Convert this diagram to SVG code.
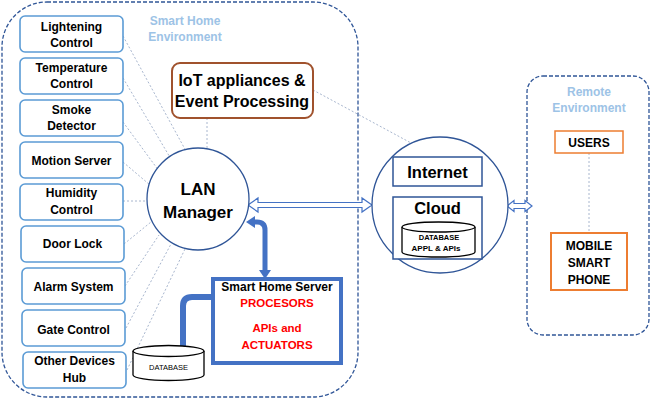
<svg xmlns="http://www.w3.org/2000/svg" width="650" height="401" viewBox="0 0 650 401">
<style>
.cont{fill:none;stroke:#2F5597;stroke-width:1.3;stroke-dasharray:4 2}
.env{font-family:"Liberation Sans",Arial,sans-serif;font-weight:bold;font-size:12px;fill:#9DC3E6;text-anchor:middle}
.dev{fill:#fff;stroke:#5B9BD5;stroke-width:1.6}
.t{font-family:"Liberation Sans",Arial,sans-serif;font-weight:bold;fill:#000;text-anchor:middle}
.dot{fill:none;stroke:#A8B6CE;stroke-width:1;stroke-dasharray:2 2}
.blue{fill:none;stroke:#4472C4}
.red{fill:#FF0000}
.or{fill:#fff;stroke:#ED7D31}
</style>
<rect width="650" height="401" fill="#fff"/>

<!-- containers -->
<g id="smart-home-env">
<rect class="cont" x="2" y="2" width="356" height="395" rx="45"/>
<text class="env" x="185" y="25">Smart Home</text>
<text class="env" x="185" y="41">Environment</text>
</g>
<g id="remote-env">
<rect class="cont" x="527" y="76" width="122" height="259" rx="16"/>
<text class="env" x="589" y="96">Remote</text>
<text class="env" x="589" y="112">Environment</text>
</g>

<!-- connectors -->
<g id="connectors">
<path class="dot" d="M123 36 L186 151"/>
<path class="dot" d="M123 78 L171 159"/>
<path class="dot" d="M123 122 L159 171"/>
<path class="dot" d="M123 162 L150 185"/>
<path class="dot" d="M123 201 L147 201"/>
<path class="dot" d="M124 244 L151 222"/>
<path class="dot" d="M125 286 L159 235"/>
<path class="dot" d="M126 328 L171 244"/>
<path class="dot" d="M127 370 L185 249"/>
<path class="dot" d="M207 118 L207 148"/>
<path class="dot" d="M313 90 L437 157"/>
<path class="dot" d="M589 153 L589 233"/>
<polygon points="248,205 258,198 258,202.5 362,202.5 362,198 372,205 362,212 362,207.5 258,207.5 258,212" fill="#fff" stroke="#4472C4" stroke-width="1.2"/>
<polygon points="507,206 514,200.5 514,203.5 525,203.5 525,200.5 532,206 525,211.5 525,208.5 514,208.5 514,211.5" fill="#fff" stroke="#4472C4" stroke-width="1.2"/>
<path class="blue" stroke-width="5" d="M253 222 L257 222 Q265 222 265 230 L265 271"/>
<polygon points="246,222 255,216 255,228" fill="#4472C4"/>
<polygon points="265,279 259,270 271,270" fill="#4472C4"/>
<path class="blue" stroke-width="6" d="M213 297 L192 297 Q183 297 183 306 L183 347"/>
</g>

<!-- devices -->
<g id="lightening-control"><rect class="dev" x="20" y="16" width="103" height="36" rx="5"/><text class="t" font-size="12" x="71.5" y="31">Lightening</text><text class="t" font-size="12" x="71.5" y="47">Control</text></g>
<g id="temperature-control"><rect class="dev" x="20" y="58" width="103" height="36" rx="5"/><text class="t" font-size="12" x="71.5" y="72">Temperature</text><text class="t" font-size="12" x="71.5" y="88">Control</text></g>
<g id="smoke-detector"><rect class="dev" x="20" y="100" width="103" height="36" rx="5"/><text class="t" font-size="12" x="71.5" y="114">Smoke</text><text class="t" font-size="12" x="71.5" y="130">Detector</text></g>
<g id="motion-server"><rect class="dev" x="20" y="142" width="103" height="36" rx="5"/><text class="t" font-size="12" x="71.5" y="165">Motion Server</text></g>
<g id="humidity-control"><rect class="dev" x="20" y="184" width="103" height="36" rx="5"/><text class="t" font-size="12" x="71.5" y="197">Humidity</text><text class="t" font-size="12" x="71.5" y="214">Control</text></g>
<g id="door-lock"><rect class="dev" x="21" y="226" width="103" height="36" rx="5"/><text class="t" font-size="12" x="72.5" y="248">Door Lock</text></g>
<g id="alarm-system"><rect class="dev" x="22" y="268" width="103" height="36" rx="5"/><text class="t" font-size="12" x="73.5" y="291">Alarm System</text></g>
<g id="gate-control"><rect class="dev" x="22" y="310" width="103" height="36" rx="5"/><text class="t" font-size="12" x="73.5" y="334">Gate Control</text></g>
<g id="other-devices-hub"><rect class="dev" x="23" y="352" width="103" height="36" rx="5"/><text class="t" font-size="12" x="74.5" y="365">Other Devices</text><text class="t" font-size="12" x="74.5" y="382">Hub</text></g>

<g id="iot-appliances">
<rect x="172" y="63" width="141" height="55" rx="8" fill="#fff" stroke="#A0522D" stroke-width="2"/>
<text class="t" font-size="16" x="242" y="86">IoT appliances &amp;</text>
<text class="t" font-size="16" x="242" y="107">Event Processing</text>
</g>

<g id="lan-manager">
<circle cx="198" cy="199" r="51" fill="#fff" stroke="#2F5597" stroke-width="1.3"/>
<text class="t" font-size="17" x="198" y="195">LAN</text>
<text class="t" font-size="17" x="198" y="218">Manager</text>
</g>

<g id="smart-home-server">
<rect x="213" y="279" width="128" height="84" fill="#fff" stroke="#4472C4" stroke-width="4"/>
<text class="t" font-size="12" x="277" y="291">Smart Home Server</text>
<text class="t red" font-size="11.5" x="277" y="307">PROCESORS</text>
<text class="t red" font-size="11.5" x="277" y="332">APIs and</text>
<text class="t red" font-size="11.5" x="277" y="349">ACTUATORS</text>
</g>

<g id="database">
<path d="M133 351 L133 375 A35.5 5.5 0 0 0 204 375 L204 351" fill="#fff" stroke="#000" stroke-width="1.3"/>
<ellipse cx="168.5" cy="351" rx="35.5" ry="5.5" fill="#fff" stroke="#000" stroke-width="1.3"/>
<text font-family="Liberation Sans,Arial,sans-serif" font-size="7.5" text-anchor="middle" x="168.5" y="370">DATABASE</text>
</g>

<g id="internet-cloud">
<circle cx="440" cy="205" r="68" fill="#fff" stroke="#2F5597" stroke-width="1.3"/>
<rect x="393" y="157" width="89" height="29" fill="#fff" stroke="#2F5597" stroke-width="1.5"/>
<text class="t" font-size="16.5" x="437.5" y="178">Internet</text>
<rect x="393" y="197" width="89" height="62" fill="#fff" stroke="#2F5597" stroke-width="1.5"/>
<text class="t" font-size="16.5" x="437.5" y="214">Cloud</text>
<path d="M402 227 L402 252 A36.5 5 0 0 0 475 252 L475 227" fill="#fff" stroke="#000" stroke-width="1.3"/>
<ellipse cx="438.5" cy="227" rx="36.5" ry="5" fill="#fff" stroke="#000" stroke-width="1.3"/>
<text class="t" font-size="7.5" x="439" y="240">DATABASE</text>
<text class="t" font-size="8" x="436" y="251">APPL &amp; APIs</text>
</g>

<g id="users">
<rect class="or" x="555" y="131" width="68" height="22" stroke-width="1.5"/>
<text class="t" font-size="12" x="589" y="147">USERS</text>
</g>
<g id="mobile-smart-phone">
<rect class="or" x="551" y="233" width="76" height="57" stroke-width="2"/>
<text class="t" font-size="12" x="589" y="250">MOBILE</text>
<text class="t" font-size="12" x="589" y="267">SMART</text>
<text class="t" font-size="12" x="589" y="284">PHONE</text>
</g>
</svg>
